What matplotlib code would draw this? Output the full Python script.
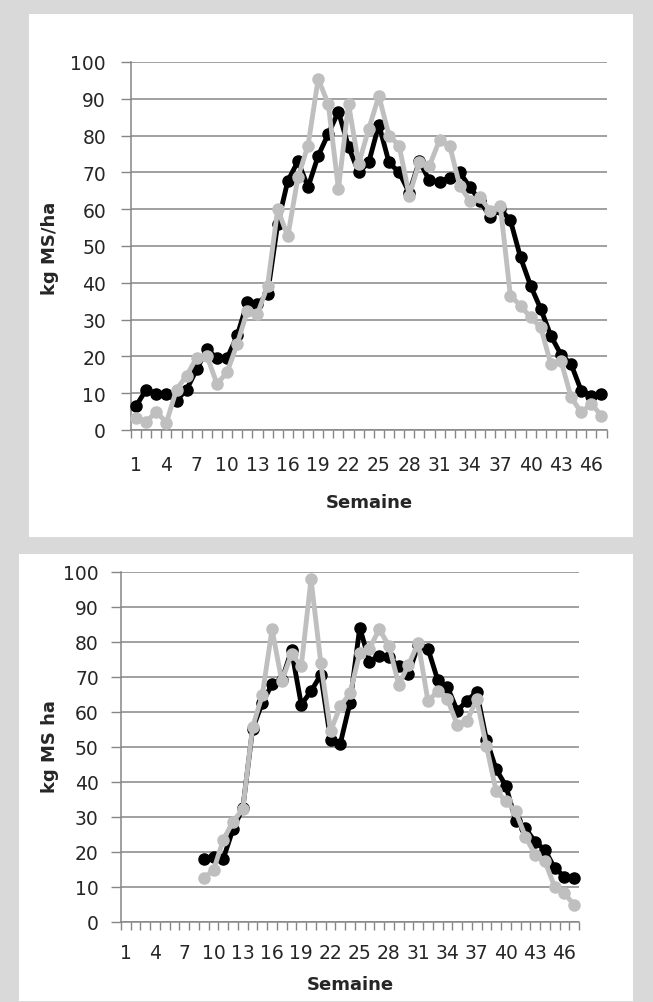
import numpy as np
import matplotlib
matplotlib.use("Agg")
import matplotlib.pyplot as plt
from matplotlib.patches import Rectangle

plt.rcParams['font.family'] = ['DejaVu Sans']

weeks = list(range(1, 48))
xtick_labels = [str(w) for w in range(1, 48, 3)]

top_black = [6.5, 11, 9.8, 9.8, 8, 11, 16.5, 22, 19.5, 19.5,
             25.7, 34.7, 34.2, 37, 56, 67.7, 73, 66, 74.5, 80.5,
             86.5, 77, 70, 72.7, 83, 72.7, 70, 64.5, 73, 67.8,
             67.5, 68.5, 70, 66, 62.3, 57.8, 60, 57, 46.9, 39.2,
             32.9, 25.6, 20.5, 17.9, 10.7, 9.3, 9.8]
top_gray = [3.3, 2.2, 5, 2, 11, 14.8, 19.7, 20.2, 12.5, 15.7,
            23.4, 32.4, 31.5, 39.2, 60, 52.6, 68.7, 77.3, 95.4, 88.6,
            65.5, 88.6, 72.3, 81.8, 90.8, 80, 77.3, 63.7, 72.8, 71.8,
            78.8, 77.3, 66.3, 62.3, 63.2, 59.6, 61, 36.5, 33.8, 30.6,
            27.9, 17.9, 18.8, 8.9, 4.8, 7.1, 3.9]

nan = np.nan
bot_black = [nan, nan, nan, nan, nan, nan, nan, nan, 17.8, 18.6,
             18, 26.5, 32.4, 55, 62.5, 67.8, 69, 77.5, 62, 65.8,
             70.5, 52, 50.8, 62.5, 84, 74.3, 76, 75.5, 73, 70.6,
             79, 78, 69, 67, 60.3, 63, 65.7, 52, 43.5, 38.8,
             28.8, 26.7, 22.8, 20.5, 15.3, 12.9, 12.4]
bot_gray = [nan, nan, nan, nan, nan, nan, nan, nan, 12.4, 14.8,
            23.4, 28.6, 32.2, 55.5, 64.7, 83.5, 68.7, 76.5, 73, 97.8,
            74, 54.4, 61.5, 65.2, 76.8, 78, 83.5, 78.8, 67.7, 73.3,
            79.6, 63, 65.8, 63.5, 56.3, 57.3, 63.5, 50.1, 37.3, 34.4,
            31.5, 24.3, 19.1, 17.2, 10, 8.1, 4.8]

W, H = 653, 1003
GRID = '#868686'
GRAY = '#bfbfbf'
TXT = '#262626'

fig = plt.figure(figsize=(W / 100, H / 100), dpi=100, facecolor='#d9d9d9')


def box(x0, y0, x1, y1):
    fig.patches.append(Rectangle((x0 / W, 1 - y1 / H), (x1 - x0) / W, (y1 - y0) / H,
                                 transform=fig.transFigure, facecolor='white',
                                 edgecolor='none', zorder=-5))


def make_axes(x0, x1, ytop, ybot):
    ax = fig.add_axes([x0 / W, 1 - ybot / H, (x1 - x0) / W, (ybot - ytop) / H])
    ax.set_zorder(5)
    return ax


def style(ax, xpad, ypad):
    ax.set_xlim(0.5, 47.5)
    ax.set_ylim(0, 100)
    ax.patch.set_visible(False)
    ax.set_yticks(range(0, 101, 10))
    ax.yaxis.grid(True, color=GRID, lw=1.1)
    ax.set_axisbelow(True)
    ax.set_xticks(range(1, 48, 3))
    ax.set_xticklabels(xtick_labels)
    ax.set_xticks(np.arange(0.5, 48, 1), minor=True)
    ax.tick_params(axis='x', which='major', length=0, pad=xpad, labelsize=13.5, colors=TXT)
    ax.tick_params(axis='x', which='minor', length=6, width=1, color=GRID, direction='out')
    ax.tick_params(axis='y', length=7, width=1, color=GRID, pad=ypad, labelsize=13.5,
                   labelcolor=TXT)
    for s in ['top', 'right']:
        ax.spines[s].set_visible(False)
    for s in ['left', 'bottom']:
        ax.spines[s].set_color(GRID)
        ax.spines[s].set_linewidth(1.1)


def draw(ax, black, gray):
    ax.plot(weeks, black, color='black', lw=3.5, marker='o', ms=8, zorder=3, clip_on=False)
    ax.plot(weeks, gray, color=GRAY, lw=3.5, marker='o', ms=8, zorder=4, clip_on=False)


# top panel
box(29, 15, 633, 538)
ax1 = make_axes(131, 606.5, 63, 431)
style(ax1, 18, 11)
draw(ax1, top_black, top_gray)
fig.text(50 / W, 1 - 248 / H, 'kg MS/ha', rotation=90, ha='center', va='center',
         fontsize=13, fontweight='bold', color=TXT)
fig.text(369 / W, 1 - 503 / H, 'Semaine', ha='center', va='center',
         fontsize=13, fontweight='bold', color=TXT)

# bottom panel
box(19, 555, 633, 1002)
ax2 = make_axes(121, 579, 572.5, 922.7)
style(ax2, 15, 9)
draw(ax2, bot_black, bot_gray)
fig.text(50 / W, 1 - 747 / H, 'kg MS ha', rotation=90, ha='center', va='center',
         fontsize=13, fontweight='bold', color=TXT)
fig.text(350 / W, 1 - 985 / H, 'Semaine', ha='center', va='center',
         fontsize=13, fontweight='bold', color=TXT)

fig.savefig('out.png', dpi=100, facecolor=fig.get_facecolor())
